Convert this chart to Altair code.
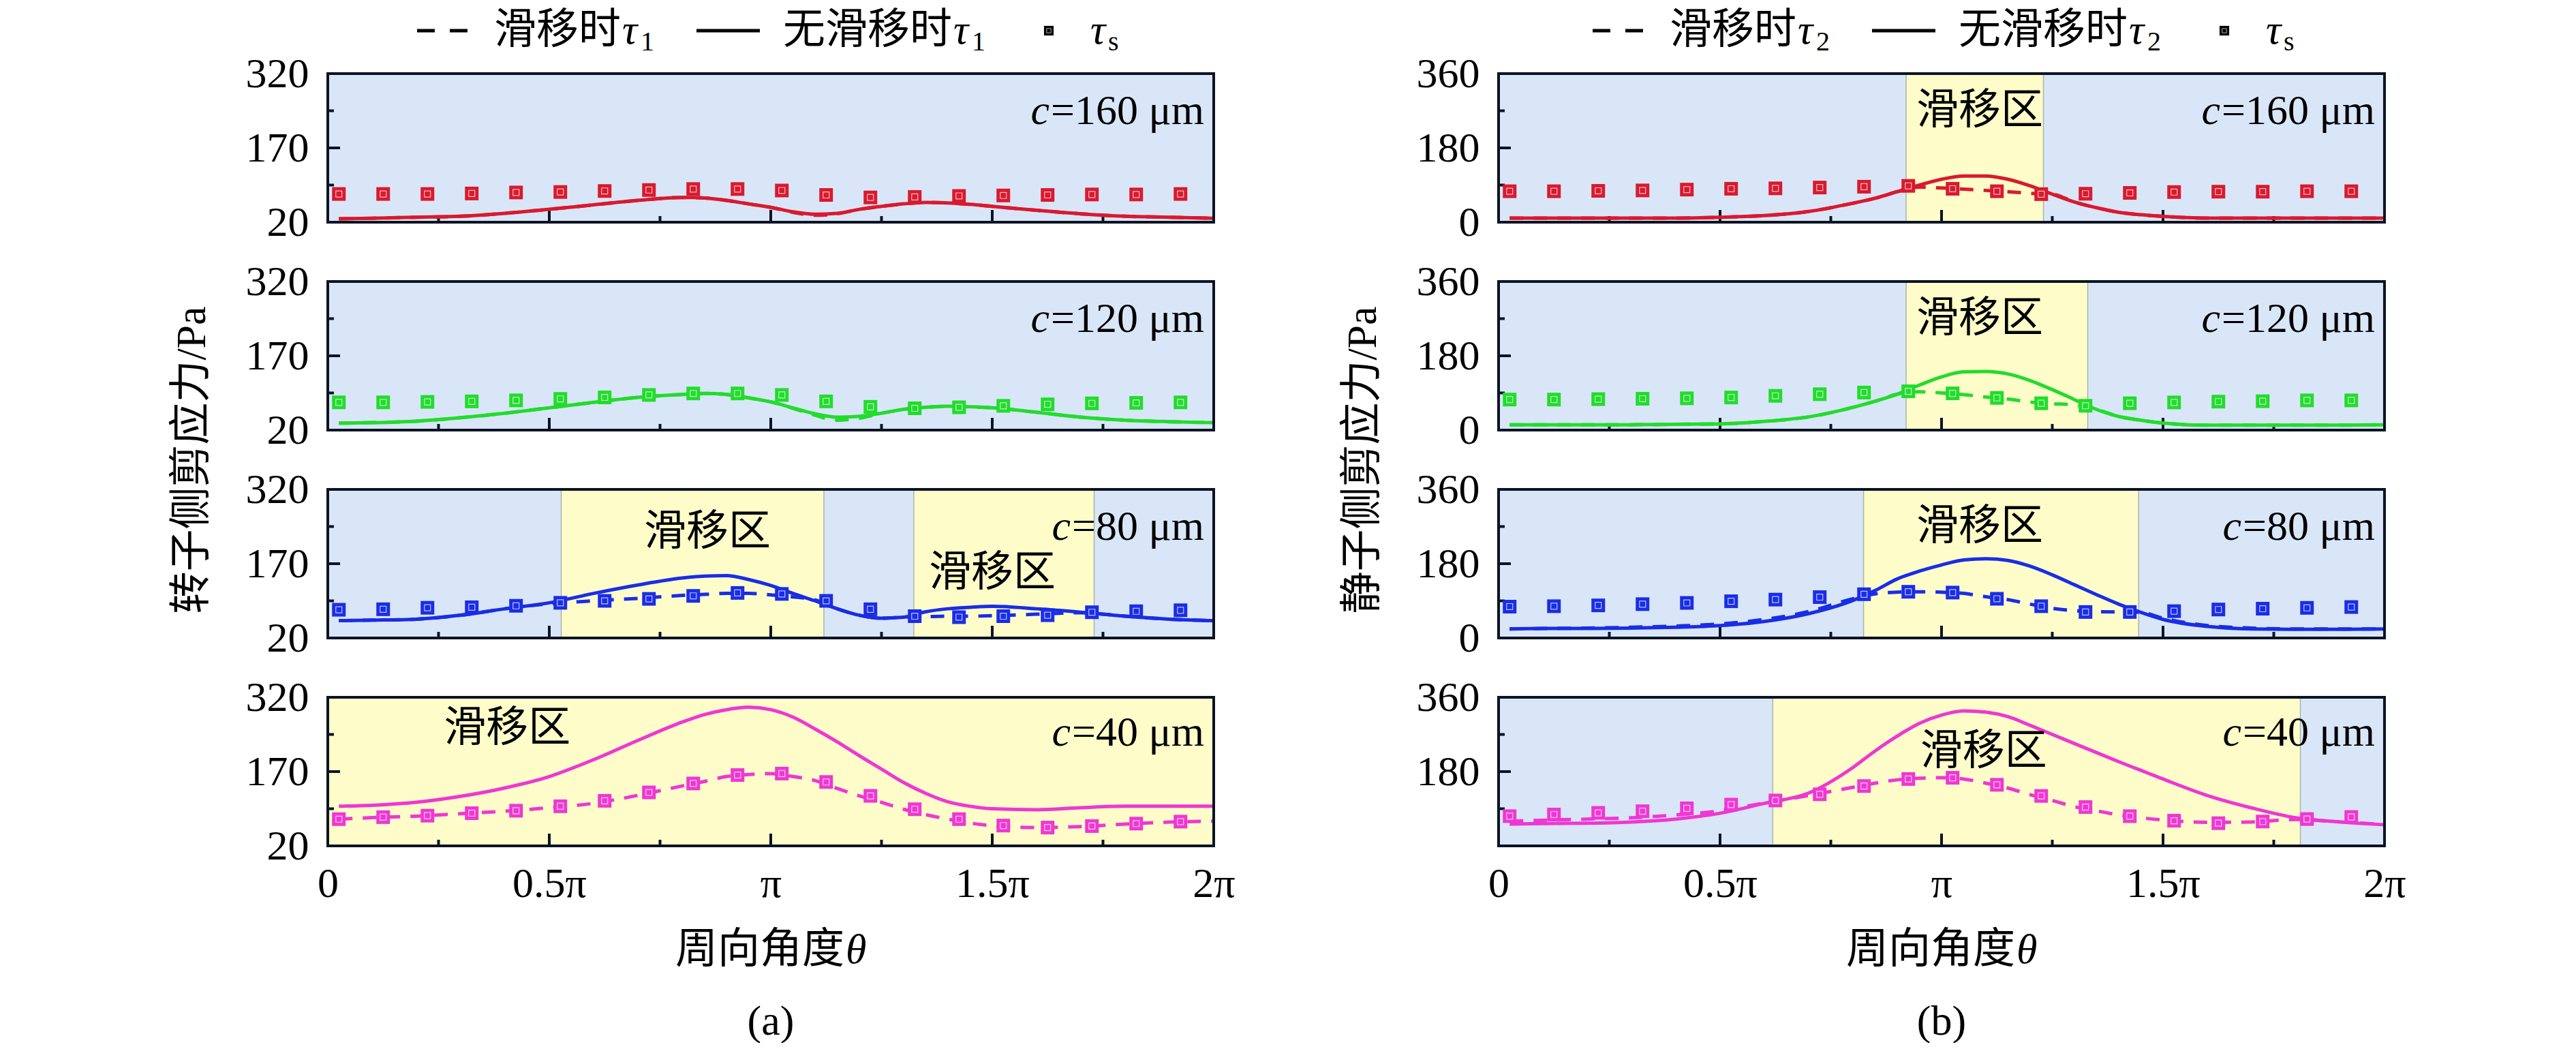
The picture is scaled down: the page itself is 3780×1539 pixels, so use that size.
import altair as alt
import pandas as pd

# angular positions (in units of pi) of the tau_s squares and of the curve samples
S_X = [0.025, 0.125, 0.225, 0.325, 0.425, 0.525, 0.625, 0.725, 0.825, 0.925,
       1.025, 1.125, 1.225, 1.325, 1.425, 1.525, 1.625, 1.725, 1.825, 1.925]
LINE_X = [0.025, 0.1, 0.2, 0.3, 0.4, 0.5, 0.6, 0.7, 0.8, 0.85, 0.9, 0.95, 1.0, 1.05,
          1.1, 1.15, 1.2, 1.25, 1.3, 1.35, 1.4, 1.45, 1.5, 1.6, 1.7, 1.8, 1.9, 2.0]

# (a) rotor side, tau_1
A160_TS = [77, 77, 77, 78, 80, 81, 83, 85, 87, 87, 84, 75, 70, 71, 73, 74, 75, 76, 76, 77]
A160_SOLID = [27, 28, 30, 32, 38, 46, 55, 64, 70, 69, 64, 57, 50, 41, 36, 38, 46, 52, 57, 60, 59, 56, 52, 44, 37, 32, 30, 28]
A160_DASH = [27, 28, 30, 32, 38, 46, 55, 64, 70, 69, 64, 57, 50, 40, 34, 37, 46, 52, 57, 60, 59, 56, 52, 44, 37, 32, 30, 28]
A120_TS = [76, 76, 77, 78, 80, 83, 86, 91, 94, 94, 91, 78, 67, 64, 66, 69, 72, 74, 75, 76]
A120_SOLID = [34, 35, 38, 45, 54, 65, 76, 86, 92, 94, 92, 85, 77, 65, 53, 46, 48, 54, 62, 66, 68, 67, 65, 56, 46, 40, 37, 35]
A120_DASH = [34, 35, 38, 45, 54, 65, 76, 86, 92, 94, 92, 85, 77, 64, 50, 40, 44, 54, 62, 66, 68, 67, 65, 56, 46, 40, 37, 35]
A80_TS = [77, 78, 81, 82, 85, 91, 95, 99, 105, 111, 109, 95, 78, 64, 62, 64, 66, 72, 74, 76]
A80_SOLID = [55, 56, 58, 66, 79, 91, 110, 127, 141, 145, 146, 138, 126, 110, 95, 79, 66, 60, 62, 73, 79, 82, 84, 79, 72, 64, 58, 55]
A80_DASH = [55, 56, 58, 66, 79, 89, 95, 100, 106, 108, 110, 110, 107, 103, 97, 79, 66, 60, 62, 63, 64, 64, 65, 68, 71, 64, 58, 55]
A40_TS = [74, 78, 81, 86, 91, 100, 111, 128, 146, 163, 166, 149, 121, 94, 74, 61, 57, 60, 65, 69]
A40_SOLID = [100, 102, 108, 120, 137, 160, 194, 233, 270, 285, 295, 300, 295, 280, 256, 230, 202, 175, 148, 126, 109, 100, 95, 93, 97, 100, 100, 100]
A40_DASH = [74, 77, 80, 85, 90, 97, 106, 122, 141, 150, 160, 164, 166, 160, 152, 136, 121, 108, 94, 83, 74, 66, 61, 57, 59, 64, 68, 70]

# (b) stator side, tau_2
B160_TS = [75, 75, 76, 77, 79, 81, 82, 84, 86, 88, 81, 75, 68, 69, 71, 73, 74, 74, 75, 75]
B160_SOLID = [10, 10, 10, 10, 10, 12, 16, 26, 46, 58, 74, 90, 104, 112, 112, 104, 88, 68, 49, 35, 24, 18, 14, 10, 10, 10, 10, 10]
B160_DASH = [10, 10, 10, 10, 10, 12, 16, 26, 46, 58, 74, 85, 83, 80, 77, 74, 70, 68, 49, 35, 24, 18, 14, 10, 10, 10, 10, 10]
B120_TS = [74, 74, 75, 76, 77, 79, 83, 87, 91, 94, 89, 78, 65, 59, 65, 67, 69, 70, 72, 72]
B120_SOLID = [13, 13, 13, 13, 14, 15, 21, 32, 55, 70, 87, 109, 129, 141, 142, 136, 120, 98, 74, 50, 33, 24, 17, 12, 12, 12, 12, 13]
B120_DASH = [13, 13, 13, 13, 14, 15, 21, 32, 55, 70, 87, 93, 90, 86, 80, 75, 68, 64, 61, 50, 33, 24, 17, 12, 12, 12, 12, 13]
B80_TS = [76, 77, 79, 82, 85, 89, 93, 99, 106, 112, 110, 95, 77, 63, 63, 65, 69, 71, 73, 75]
B80_SOLID = [22, 23, 23, 24, 26, 30, 40, 59, 91, 115, 143, 162, 177, 189, 192, 188, 174, 153, 129, 105, 82, 62, 45, 28, 22, 21, 21, 22]
B80_DASH = [22, 23, 24, 26, 29, 34, 45, 64, 95, 107, 111, 112, 111, 108, 100, 93, 82, 72, 66, 64, 63, 62, 48, 30, 24, 22, 22, 22]
B40_TS = [72, 76, 80, 84, 91, 100, 110, 125, 145, 162, 165, 148, 121, 94, 72, 61, 55, 59, 65, 70]
B40_SOLID = [53, 54, 55, 58, 65, 79, 103, 128, 190, 230, 266, 297, 317, 327, 324, 313, 292, 270, 248, 226, 204, 183, 162, 122, 92, 68, 58, 51]
B40_DASH = [60, 62, 65, 68, 75, 85, 104, 122, 142, 152, 160, 164, 165, 162, 152, 140, 124, 110, 95, 85, 75, 68, 63, 57, 58, 64, 58, 52]

# slip zones (start, end) in units of pi, and the x of their "滑移区" labels
A_ZONES = [[], [], [(0.527, 1.12), (1.323, 1.73)], [(0.0, 2.0)]]
A_ZONE_LABEL_X = [[], [], [0.857, 1.50], [0.405]]
B_ZONES = [[(0.92, 1.23)], [(0.92, 1.33)], [(0.824, 1.445)], [(0.619, 1.81)]]
B_ZONE_LABEL_X = [[1.086], [1.086], [1.086], [1.095]]

CLEARANCES = ["160", "120", "80", "40"]
X_TICKS = [0, 0.5, 1, 1.5, 2]
X_MAJOR = [0.5, 1.0, 1.5]
X_MINOR = [0.25, 0.75, 1.25, 1.75]

W, H = 1300, 218
FS = 62
SERIF = "'Liberation Serif', 'Noto Sans CJK SC'"
DARK = "#0b1424"
BLUE_BG = "#d9e6f8"
YELLOW_BG = "#fefdc9"
COLORS = ["#d91a2e", "#22dc2c", "#1a2de6", "#ee38d2"]

ONE = pd.DataFrame({"k": [0]})


def txt(text, x, y, size=FS, style="normal", align="left", angle=0):
    mark = dict(text=text, font=SERIF, fontSize=size, fontStyle=style,
                align=align, baseline="middle", color="black")
    if angle:
        mark["angle"] = angle
    return alt.Chart(ONE).mark_text(**mark).encode(x=alt.value(x), y=alt.value(y))


def anchor(x, y):
    # invisible point that fixes the layout bounds
    return alt.Chart(ONE).mark_rule(opacity=0).encode(
        x=alt.value(x), x2=alt.value(x + 1), y=alt.value(y), y2=alt.value(y + 1))


def legend(sub, dx):
    y = -63
    parts = [
        alt.Chart(ONE).mark_rule(color="black", strokeWidth=5, strokeDash=[26, 22]).encode(
            x=alt.value(131 + dx), x2=alt.value(206 + dx), y=alt.value(y)),
        txt("滑移时", 244 + dx, y),
        txt("τ", 432 + dx, y, style="italic"),
        txt(sub, 459 + dx, y + 17, size=40),
        alt.Chart(ONE).mark_rule(color="black", strokeWidth=5).encode(
            x=alt.value(541 + dx), x2=alt.value(634 + dx), y=alt.value(y)),
        txt("无滑移时", 668 + dx, y),
        txt("τ", 918 + dx, y, style="italic"),
        txt(sub, 945 + dx, y + 17, size=40),
        alt.Chart(ONE).mark_point(shape="square", filled=True, size=200, color="black", opacity=1).encode(
            x=alt.value(1058 + dx), y=alt.value(y)),
        alt.Chart(ONE).mark_point(shape="square", filled=False, size=40, color="white", strokeWidth=1, opacity=0.7).encode(
            x=alt.value(1058 + dx), y=alt.value(y)),
        txt("τ", 1119 + dx, y, style="italic"),
        txt("s", 1145 + dx, y + 17, size=40),
    ]
    return parts


def panel(row, side, ts, solid, dash, zones, zone_lx):
    color = COLORS[row]
    bottom = row == 3
    if side == "a":
        ydom, ymajor, yminor, ylabels = [20, 320], [170], [95, 245], [20, 170, 320]
    else:
        ydom, ymajor, yminor, ylabels = [0, 360], [180], [90, 270], [0, 180, 360]
        if bottom:
            ylabels = [180, 360]

    if bottom:
        xaxis = alt.Axis(values=X_TICKS, labelExpr="datum.value == 0 ? '0' : datum.value == 1 ? 'π' : datum.value + 'π'",
                         labelFont=SERIF, labelFontSize=FS, labelColor="black", labelPadding=25,
                         labelFlush=False, labelOverlap=False, ticks=False, tickSize=0,
                         domain=False, grid=False, title=None)
    else:
        xaxis = alt.Axis(labels=False, ticks=False, domain=False, grid=False, title=None)
    xenc = alt.X("x:Q", scale=alt.Scale(domain=[0, 2], nice=False, zero=False), axis=xaxis)
    yenc = alt.Y("y:Q", scale=alt.Scale(domain=ydom, nice=False, zero=False),
                 axis=alt.Axis(values=ylabels, labelFont=SERIF, labelFontSize=FS, labelColor="black",
                               labelPadding=28, labelFlush=False, labelOverlap=False, ticks=False,
                               tickSize=0, domain=False, grid=False, title=None))

    layers = [alt.Chart(pd.DataFrame({"x": [0], "x2": [2]})).mark_rect(color=BLUE_BG).encode(
        x=xenc, x2="x2:Q", y=alt.value(0), y2=alt.value(H))]
    if zones:
        zdf = pd.DataFrame({"x": [z[0] for z in zones], "x2": [z[1] for z in zones]})
        layers.append(alt.Chart(zdf).mark_rect(color=YELLOW_BG, stroke="#aab3aa", strokeWidth=1.5).encode(
            x=xenc, x2="x2:Q", y=alt.value(0), y2=alt.value(H)))

    layers += [
        alt.Chart(pd.DataFrame({"x": X_MAJOR})).mark_rule(color=DARK, strokeWidth=4).encode(
            x=xenc, y=alt.value(H), y2=alt.value(H - 18)),
        alt.Chart(pd.DataFrame({"x": X_MINOR})).mark_rule(color=DARK, strokeWidth=4).encode(
            x=xenc, y=alt.value(H), y2=alt.value(H - 9)),
        alt.Chart(pd.DataFrame({"y": ymajor})).mark_rule(color=DARK, strokeWidth=4).encode(
            y=yenc, x=alt.value(0), x2=alt.value(18)),
        alt.Chart(pd.DataFrame({"y": yminor})).mark_rule(color=DARK, strokeWidth=4).encode(
            y=yenc, x=alt.value(0), x2=alt.value(9)),
        alt.Chart(pd.DataFrame({"x": LINE_X, "y": solid})).mark_line(
            color=color, strokeWidth=5, interpolate="monotone").encode(x=xenc, y=yenc),
        alt.Chart(pd.DataFrame({"x": LINE_X, "y": dash})).mark_line(
            color=color, strokeWidth=5, strokeDash=[20, 15], interpolate="monotone").encode(x=xenc, y=yenc),
        alt.Chart(pd.DataFrame({"x": S_X, "y": ts})).mark_point(
            shape="square", filled=True, size=400, color=color, opacity=1).encode(x=xenc, y=yenc),
        alt.Chart(pd.DataFrame({"x": S_X, "y": ts})).mark_point(
            shape="square", filled=False, size=80, color="white", strokeWidth=1.2, opacity=0.7).encode(x=xenc, y=yenc),
        alt.Chart(ONE).mark_rect(fillOpacity=0, stroke=DARK, strokeWidth=4).encode(
            x=alt.value(0), x2=alt.value(W), y=alt.value(0), y2=alt.value(H)),
    ]

    # zone labels
    zone_y = {("a", 2): [63, 123], ("a", 3): [46], ("b", 3): [80]}.get((side, row), [55] * len(zone_lx))
    for lx, ly in zip(zone_lx, zone_y):
        layers.append(alt.Chart(pd.DataFrame({"x": [lx]})).mark_text(
            text="滑移区", font=SERIF, fontSize=FS, align="center", baseline="middle", color="black").encode(
            x=xenc, y=alt.value(ly)))

    # clearance annotation: italic c then "=... μm"
    cval = CLEARANCES[row]
    num_w = 227 if len(cval) == 3 else 196
    cy = 52 if bottom else 55
    layers.append(txt("=" + cval + " μm", W - 14, cy, align="right"))
    layers.append(txt("c", W - 14 - num_w, cy, style="italic", align="right"))

    if row == 0:
        layers += legend("1" if side == "a" else "2", 0 if side == "a" else 7)
        if side == "a":
            layers.append(anchor(-473, -100))   # page offset of the whole figure
            layers.append(anchor(W + 50, 0))    # right edge of column (a)
        else:
            layers.append(anchor(-300, 0))      # left edge of column (b)
    if row == 1:
        title = "转子侧剪应力/Pa" if side == "a" else "静子侧剪应力/Pa"
        layers.append(txt(title, -199, 262, align="center", angle=270))
    if bottom:
        layers.append(txt("周向角度", W / 2 + 108, H + 153, align="right"))
        layers.append(txt("θ", W / 2 + 110, H + 153, style="italic"))
        layers.append(txt("(" + side + ")", W / 2, H + 258, align="center"))

    return alt.layer(*layers).properties(width=W, height=H)


col_a = alt.vconcat(
    panel(0, "a", A160_TS, A160_SOLID, A160_DASH, A_ZONES[0], A_ZONE_LABEL_X[0]),
    panel(1, "a", A120_TS, A120_SOLID, A120_DASH, A_ZONES[1], A_ZONE_LABEL_X[1]),
    panel(2, "a", A80_TS, A80_SOLID, A80_DASH, A_ZONES[2], A_ZONE_LABEL_X[2]),
    panel(3, "a", A40_TS, A40_SOLID, A40_DASH, A_ZONES[3], A_ZONE_LABEL_X[3]),
    spacing=87, bounds="flush")
col_b = alt.vconcat(
    panel(0, "b", B160_TS, B160_SOLID, B160_DASH, B_ZONES[0], B_ZONE_LABEL_X[0]),
    panel(1, "b", B120_TS, B120_SOLID, B120_DASH, B_ZONES[1], B_ZONE_LABEL_X[1]),
    panel(2, "b", B80_TS, B80_SOLID, B80_DASH, B_ZONES[2], B_ZONE_LABEL_X[2]),
    panel(3, "b", B40_TS, B40_SOLID, B40_DASH, B_ZONES[3], B_ZONE_LABEL_X[3]),
    spacing=87, bounds="flush")

# column gap 417 px between plot areas = 50 (right anchor) + 67 (spacing) + 300 (left anchor)
chart = alt.hconcat(col_a, col_b, spacing=67).properties(
    padding=0, background="white"
).configure_view(strokeWidth=0)

chart.save("out.html", embed_options={"renderer": "svg", "actions": False})
